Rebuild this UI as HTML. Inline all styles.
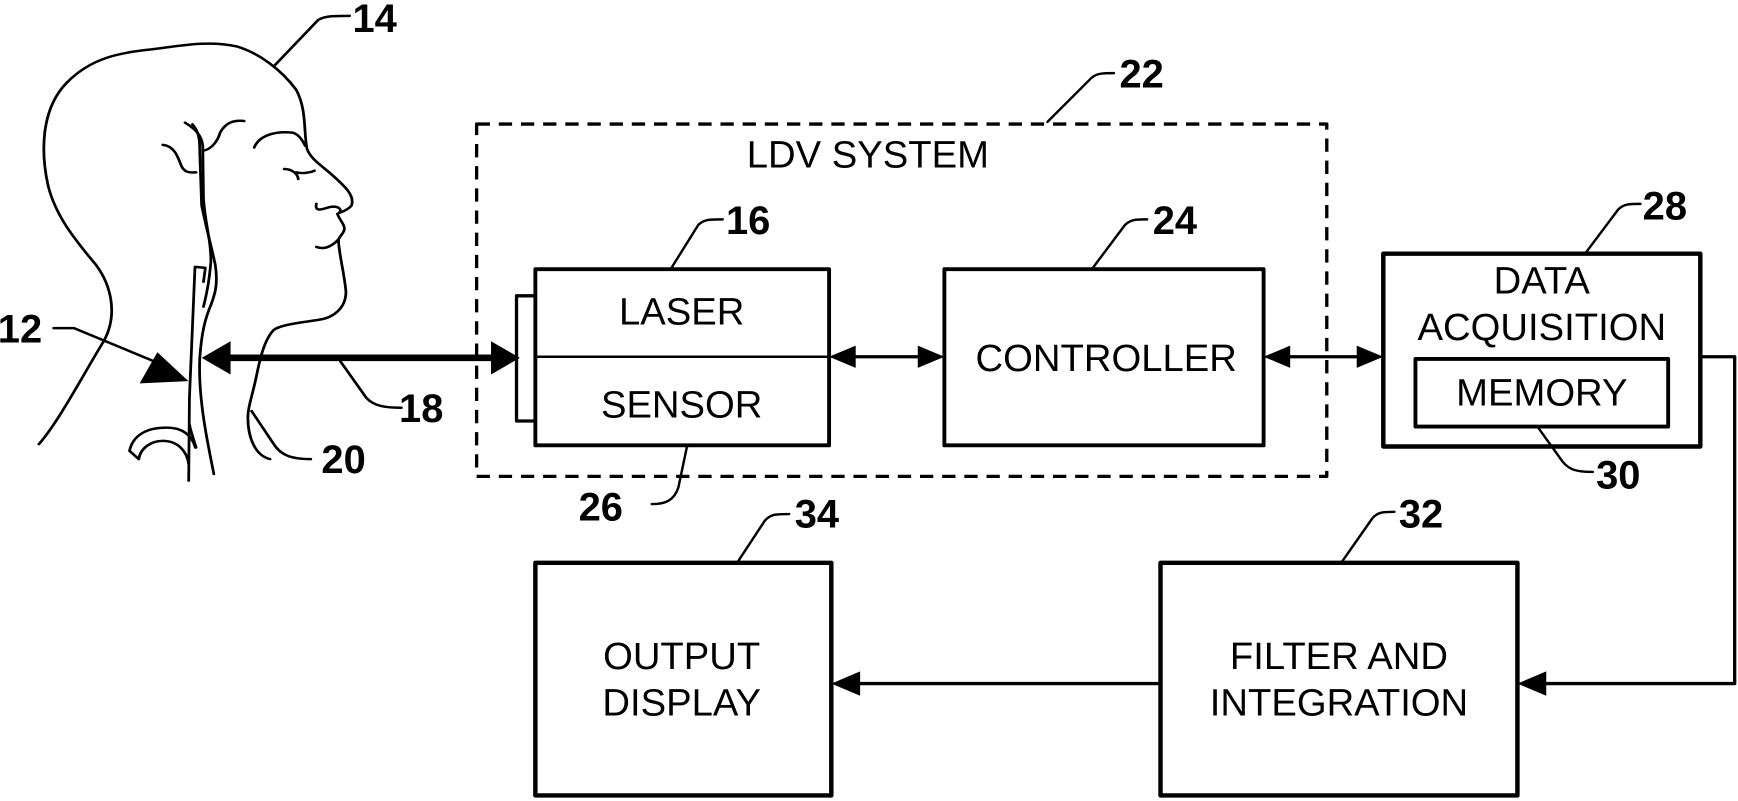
<!DOCTYPE html>
<html><head><style>html,body{margin:0;padding:0;background:#fff}svg{display:block}</style></head>
<body>
<svg width="1738" height="801" viewBox="0 0 1568 723" preserveAspectRatio="none" xmlns="http://www.w3.org/2000/svg" font-family="Liberation Sans, sans-serif">
<g fill="none" stroke="#000" stroke-width="2.2" stroke-linecap="round" stroke-linejoin="round">
 <g transform="scale(0.3338,0.2992)" stroke-width="7.5">
  <path d="M105,1340 C160,1270 230,1120 280,1030 C320,950 300,860 260,800 C200,720 150,650 130,560 C110,460 110,330 180,250 C250,170 330,160 400,150 C480,140 560,120 640,140 C700,160 760,210 800,270 C830,330 820,400 830,450 C840,480 870,500 900,530 C930,560 960,590 950,620 C940,635 920,640 912,645 C915,660 935,680 930,695 C925,710 915,715 915,725 C915,760 930,820 935,880 C935,930 900,960 860,965 C800,975 760,980 740,995 C710,1030 700,1100 690,1150 C680,1200 670,1230 670,1260 C670,1320 690,1375 730,1385"/>
  <path d="M855,615 C850,640 870,632 890,625 C910,620 925,628 918,640"/>
  <path d="M855,745 C880,755 900,740 915,722"/>
  <path d="M768,510 C790,510 805,525 806,540 M800,520 C820,525 840,520 850,515"/>
  <path d="M687,445 C700,410 740,395 790,400 C810,405 820,430 825,440"/>
  <path d="M500,370 C530,390 545,410 548,440 L550,600 C555,680 570,720 570,790 C565,850 560,880 550,925"/>
  <path d="M520,375 C540,400 540,430 540,460 L545,620 C560,700 575,760 582,800 C590,860 580,890 570,920 C555,960 545,1000 540,1080 C535,1200 560,1330 578,1430"/>
  <path d="M548,455 C575,450 590,420 595,400 C610,370 630,362 660,365"/>
  <path d="M440,437 C470,440 480,470 490,500 C500,525 520,520 530,520"/>
  <path d="M510,1450 L512,1200 L527,805 L555,808 L550,850"/>
  <path d="M530,1350 C522,1320 515,1300 512,1280"/>
  <path d="M350,1360 C360,1310 400,1290 450,1290 C500,1290 520,1320 528,1350 M375,1385 C380,1350 410,1330 440,1330 C480,1330 505,1360 510,1400 M350,1360 L375,1385"/>
  <path d="M145,990 L200,990 L460,1110"/>
  <path d="M740,200 L860,60 C880,48 900,48 945,48"/>
  <path d="M920,1090 L990,1200 C1010,1225 1040,1230 1085,1230"/>
  <path d="M680,1240 L740,1340 C760,1375 790,1385 840,1385"/>
 </g>
 <rect x="430" y="112" width="767" height="318" stroke-width="3" stroke-dasharray="12,8" stroke-linecap="butt"/>
 <path d="M945,110 L985,70 C990,66 995,66 1005,66"/>
 <rect x="483" y="243" width="265" height="159" stroke-width="3.5"/>
 <line x1="483" y1="322" x2="748" y2="322"/>
 <rect x="466" y="267" width="17" height="113" stroke-width="3"/>
 <path d="M605,243 L630,203 C635,198 640,198 652,198"/>
 <path d="M620,402 L612,440 C608,452 600,455 588,455"/>
 <rect x="852" y="243" width="288" height="159" stroke-width="3.5"/>
 <path d="M985,243 L1015,203 C1020,198 1025,198 1035,198"/>
 <line x1="760" y1="322" x2="840" y2="322" stroke-width="3"/>
 <line x1="1152" y1="322" x2="1236" y2="322" stroke-width="3"/>
 <rect x="1248" y="229" width="286" height="174" stroke-width="4"/>
 <rect x="1277" y="324" width="228" height="61" stroke-width="3.5"/>
 <path d="M1430,229 L1460,189 C1465,184 1470,184 1480,184"/>
 <path d="M1387,385 L1410,417 C1416,424 1422,426 1437,426"/>
 <path d="M1534,322 L1565,322 L1565,617 L1390,617" stroke-width="3"/>
 <rect x="1047" y="508" width="322" height="210" stroke-width="4"/>
 <path d="M1210,508 L1238,468 C1243,462 1248,462 1258,462"/>
 <line x1="1047" y1="617" x2="770" y2="617" stroke-width="3"/>
 <rect x="483" y="508" width="267" height="210" stroke-width="4"/>
 <path d="M665,508 L690,470 C695,464 700,464 712,464"/>
</g>
<g fill="#000" stroke="none">
 <line x1="190" y1="323" x2="460" y2="323" stroke="#000" stroke-width="6"/>
 <polygon points="182,323 208,308 208,338"/>
 <polygon points="469,323 443,308 443,338"/>
 <polygon points="170,344 126,346 142,318"/>
 <polygon points="748,322 772,312 772,332"/>
 <polygon points="852,322 828,312 828,332"/>
 <polygon points="1140,322 1164,312 1164,332"/>
 <polygon points="1248,322 1224,312 1224,332"/>
 <polygon points="1369,617 1395,606 1395,628"/>
 <polygon points="750,617 776,606 776,628"/>
</g>
<g font-size="34.5" text-anchor="middle" fill="#000">
 <text x="783" y="151">LDV SYSTEM</text>
 <text x="615" y="293">LASER</text>
 <text x="615" y="377">SENSOR</text>
 <text x="998" y="335">CONTROLLER</text>
 <text x="1391" y="265">DATA</text>
 <text x="1391" y="307">ACQUISITION</text>
 <text x="1391" y="366">MEMORY</text>
 <text x="1208" y="604">FILTER AND</text>
 <text x="1208" y="646">INTEGRATION</text>
 <text x="615" y="604">OUTPUT</text>
 <text x="615" y="646">DISPLAY</text>
</g>
<g font-size="36" font-weight="bold" fill="#000">
 <text x="318" y="29">14</text>
 <text x="-2" y="309">12</text>
 <text x="360" y="381">18</text>
 <text x="290" y="427">20</text>
 <text x="1010" y="79">22</text>
 <text x="655" y="211">16</text>
 <text x="1040" y="211">24</text>
 <text x="522" y="470">26</text>
 <text x="1482" y="198">28</text>
 <text x="1440" y="441">30</text>
 <text x="1262" y="476">32</text>
 <text x="717" y="476">34</text>
</g>
</svg>
</body></html>
